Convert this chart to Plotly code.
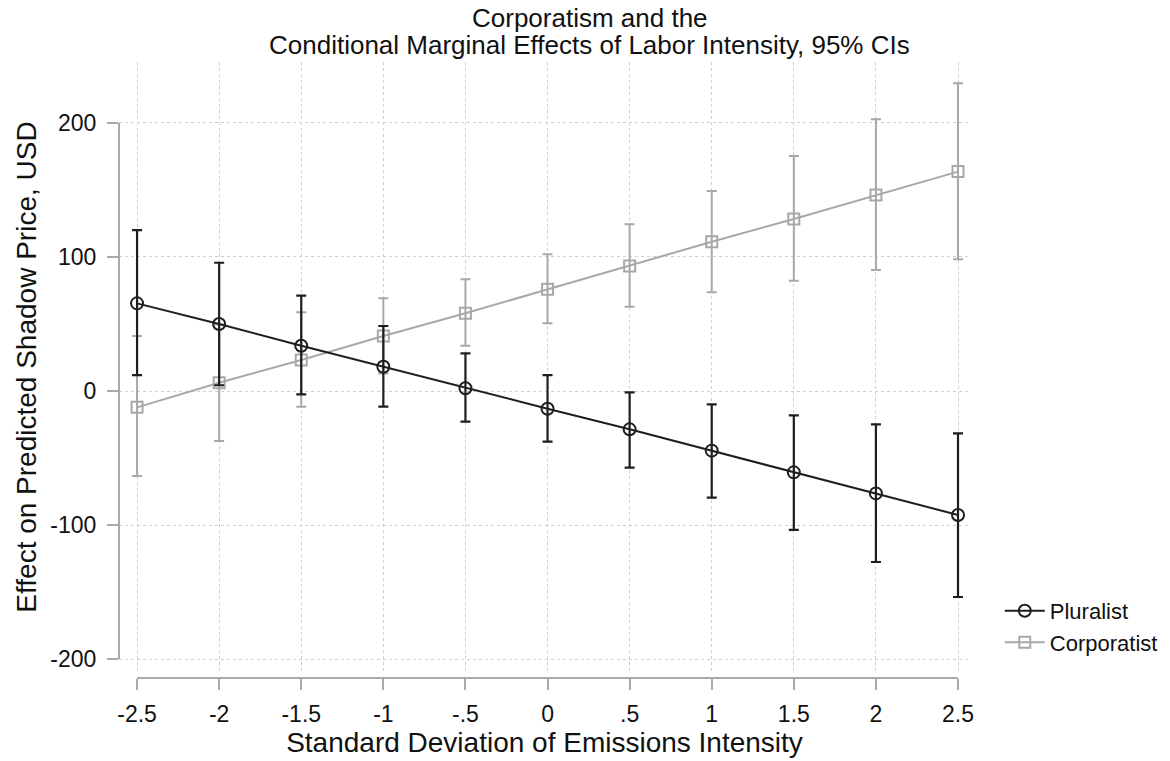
import plotly.graph_objects as go

x_vals = [-2.5, -2, -1.5, -1, -0.5, 0, 0.5, 1, 1.5, 2, 2.5]
x_ticktext = ["-2.5", "-2", "-1.5", "-1", "-.5", "0", ".5", "1", "1.5", "2", "2.5"]

plur_est = [65.4, 50.0, 33.8, 18.1, 2.0, -13.2, -28.6, -44.5, -60.7, -76.4, -92.5]
plur_hi = [120.1, 95.7, 71.1, 48.5, 28.1, 11.9, -1.0, -10.0, -18.2, -24.9, -31.6]
plur_lo = [11.9, 4.3, -2.5, -11.7, -22.9, -37.8, -57.2, -79.6, -103.7, -127.6, -153.7]

corp_est = [-12.2, 6.2, 23.1, 41.0, 58.0, 75.9, 93.3, 111.4, 128.4, 146.3, 163.7]
corp_hi = [41.0, 49.7, 58.7, 69.2, 83.4, 102.0, 124.4, 149.3, 175.4, 202.7, 229.6]
corp_lo = [-63.4, -37.3, -11.7, 13.0, 33.8, 50.5, 62.9, 73.7, 82.3, 90.3, 98.3]

y_ticks = [-200, -100, 0, 100, 200]
y_ticktext = ["-200", "-100", "0", "100", "200"]

title_lines = ["Corporatism and the", "Conditional Marginal Effects of Labor Intensity, 95% CIs"]

BLACK = "#1e1e1e"
GREY = "#a8a8a8"
AXIS = "#a9a9a9"
TEXT = "#111111"
FONT = "Liberation Sans, Arial, sans-serif"

fig = go.Figure()

fig.add_trace(go.Scatter(
    x=x_vals, y=corp_est, name="Corporatist", mode="lines+markers", legendrank=2,
    line=dict(color=GREY, width=2),
    marker=dict(symbol="square-open", size=11, color=GREY, line=dict(width=2)),
    error_y=dict(type="data", symmetric=False,
                 array=[h - e for h, e in zip(corp_hi, corp_est)],
                 arrayminus=[e - l for e, l in zip(corp_est, corp_lo)],
                 color=GREY, thickness=2, width=5),
))
fig.add_trace(go.Scatter(
    x=x_vals, y=plur_est, name="Pluralist", mode="lines+markers", legendrank=1,
    line=dict(color=BLACK, width=2),
    marker=dict(symbol="circle-open", size=12, color=BLACK, line=dict(width=2)),
    error_y=dict(type="data", symmetric=False,
                 array=[h - e for h, e in zip(plur_hi, plur_est)],
                 arrayminus=[e - l for e, l in zip(plur_est, plur_lo)],
                 color=BLACK, thickness=2.2, width=5),
))

# Stata-style axis lines spanning only the tick range
fig.add_shape(type="line", xref="x", yref="paper", x0=x_vals[0], x1=x_vals[-1], y0=0, y1=0,
              line=dict(color=AXIS, width=2))
fig.add_shape(type="line", xref="paper", yref="y", x0=0, x1=0, y0=y_ticks[0], y1=y_ticks[-1],
              line=dict(color=AXIS, width=2))

# Two-line title
fig.add_annotation(text=title_lines[0], xref="paper", yref="paper", x=0.553, y=(678 - 18) / 616,
                   xanchor="center", yanchor="middle", showarrow=False,
                   font=dict(size=26, color=TEXT))
fig.add_annotation(text=title_lines[1], xref="paper", yref="paper", x=0.553, y=(678 - 45) / 616,
                   xanchor="center", yanchor="middle", showarrow=False,
                   font=dict(size=26, color=TEXT))

fig.update_layout(
    width=1170, height=761,
    margin=dict(l=119, r=200, t=62, b=83, autoexpand=False),
    paper_bgcolor="white", plot_bgcolor="white",
    font=dict(family=FONT, size=23, color=TEXT),
    xaxis=dict(
        range=[-2.61, 2.573], tickvals=x_vals, ticktext=x_ticktext,
        showgrid=True, gridcolor="#cfcfcf", griddash="dot", gridwidth=1,
        zeroline=False, showline=False,
        ticks="outside", ticklen=11, tickwidth=2, tickcolor=AXIS,
        anchor="free", position=0, ticklabelstandoff=4,
        title=dict(text="Standard Deviation of Emissions Intensity", font=dict(size=28), standoff=6),
        tickfont=dict(size=23),
    ),
    yaxis=dict(
        range=[-209.7, 245.5], tickvals=y_ticks, ticktext=y_ticktext,
        domain=[0.0097, 1],
        showgrid=True, gridcolor="#cfcfcf", griddash="dot", gridwidth=1,
        zeroline=False, showline=False,
        ticks="outside", ticklen=11, tickwidth=2, tickcolor=AXIS,
        ticklabelstandoff=6,
        title=dict(text="Effect on Predicted Shadow Price, USD", font=dict(size=28), standoff=5),
        tickfont=dict(size=23),
    ),
    legend=dict(
        x=1.035, xanchor="left", y=0.143, yanchor="top",
        traceorder="normal", font=dict(size=22),
        bgcolor="rgba(0,0,0,0)", itemwidth=40,
    ),
    showlegend=True,
)

fig.write_html("out.html")
